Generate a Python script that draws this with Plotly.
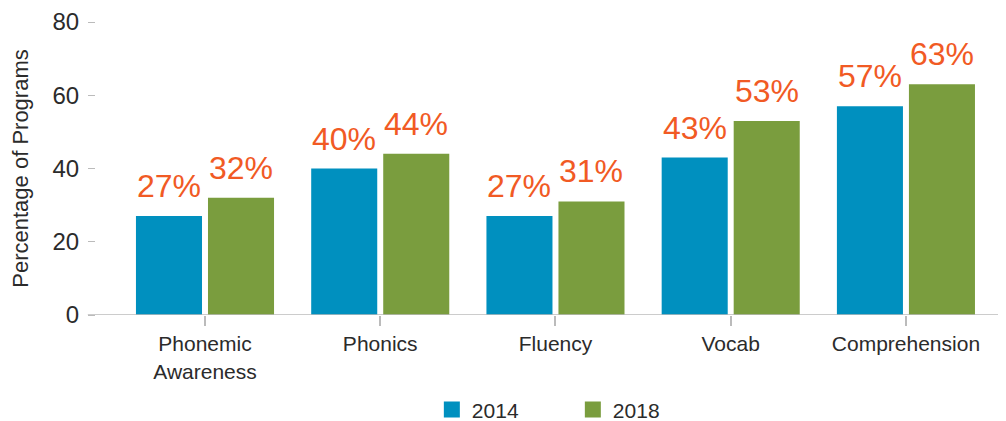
import plotly.graph_objects as go

# ── Datos ────────────────────────────────────────────────────────────────────
categories = ["Phonemic<br>Awareness", "Phonics", "Fluency", "Vocab", "Comprehension"]
years = ["2014", "2018"]
values_2014 = [27, 40, 27, 43, 57]
values_2018 = [32, 44, 31, 53, 63]
y_ticks = [0, 20, 40, 60, 80]

# ── Paleta ───────────────────────────────────────────────────────────────────
C_BLUE = "#0090BF"
C_GREEN = "#7A9D3E"
C_ORANGE = "#F15A24"
C_TEXT = "#2B2B2B"
C_AXIS = "#BBBBBB"
FONT = "Liberation Sans, Arial, sans-serif"

series = [(years[0], values_2014, C_BLUE), (years[1], values_2018, C_GREEN)]

fig = go.Figure()
for name, vals, color in series:
    fig.add_trace(go.Bar(
        x=categories, y=vals, name=name, showlegend=False,
        marker=dict(color=color, line=dict(width=0)),
    ))

# Leyenda con cuadrados más grandes (trazas vacías)
for name, vals, color in series:
    fig.add_trace(go.Scatter(
        x=[None], y=[None], mode="markers", name=name,
        marker=dict(symbol="square", size=20, color=color),
    ))

# Etiquetas de porcentaje encima de cada barra
for i, (name, vals, color) in enumerate(series):
    shift = -36 if i == 0 else 36
    for cat, v in zip(categories, vals):
        fig.add_annotation(
            x=cat, y=v, text=f"{v}%", showarrow=False,
            xshift=shift, yshift=10, yanchor="bottom",
            font=dict(size=32, color=C_ORANGE, family=FONT),
        )

# Línea del eje x (se prolonga un poco hacia la izquierda)
fig.add_shape(type="line", xref="paper", yref="y", x0=-0.009, x1=1, y0=0, y1=0,
              line=dict(color=C_AXIS, width=1.5))

fig.update_layout(
    width=998, height=413,
    paper_bgcolor="white", plot_bgcolor="white",
    font=dict(family=FONT, color=C_TEXT),
    margin=dict(l=88, r=0, t=14, b=106, autoexpand=False),
    barmode="group", bargap=0.178, bargroupgap=0.083,
    showlegend=True,
    legend=dict(
        orientation="h", x=0.524, xanchor="center",
        yref="container", y=0.027, yanchor="middle",
        font=dict(size=21, color=C_TEXT, family=FONT),
        entrywidth=96, itemwidth=30,
    ),
)
fig.update_xaxes(
    range=[-0.622, 4.571], showgrid=False, showline=False, zeroline=False,
    automargin=False,
    ticks="outside", ticklen=10, tickcolor=C_AXIS, tickwidth=1.5,
    tickfont=dict(size=21, color=C_TEXT, family=FONT),
)
fig.update_yaxes(
    range=[0, 80.01], tickvals=y_ticks, showgrid=False, showline=False, zeroline=False,
    automargin=False,
    ticks="outside", ticklen=7, tickcolor=C_AXIS, tickwidth=1,
    ticklabelstandoff=4,
    tickfont=dict(size=24, color=C_TEXT, family=FONT),
    title=dict(text="Percentage of Programs", font=dict(size=22, color=C_TEXT, family=FONT),
               standoff=18),
)

fig.write_html("out.html")
